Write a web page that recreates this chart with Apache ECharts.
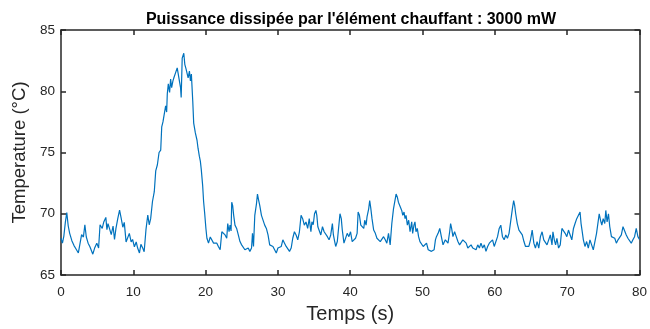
<!DOCTYPE html>
<html>
<head>
<meta charset="utf-8">
<script src="https://cdn.jsdelivr.net/npm/echarts@6/dist/echarts.min.js"></script>
<style>
  html, body { margin: 0; padding: 0; background: #fff; }
  #chart { width: 650px; height: 329px; }
</style>
</head>
<body>
<div id="chart"></div>
<script>
// Temperature trace sampled over 80 s (time in s, temperature in °C)
const time = [
  0.0,0.2,0.4,0.6,0.8,1.0,1.2,1.5,1.8,2.1,2.4,2.6,2.85,3.1,3.3,3.5,3.75,4.0,4.4,4.65,4.95,5.2,5.4,5.7,5.9,6.2,6.35,6.5,6.7,6.95,7.2,7.4,7.6,7.85,8.1,8.3,8.55,8.75,9.0,9.2,9.45,9.7,9.9,10.15,10.4,10.6,10.85,11.05,11.3,11.5,11.75,12.0,12.2,12.4,
  12.65,12.9,13.1,13.33,13.56,13.79,13.93,14.1,14.25,14.47,14.61,14.7,14.84,15.02,15.16,15.3,15.48,15.61,15.84,16.07,16.3,16.53,16.62,16.76,16.98,17.12,17.3,17.44,17.58,17.76,17.9,18.03,18.22,18.35,18.58,18.81,18.95,19.13,19.27,19.4,19.59,19.72,19.86,20.04,20.18,20.4,20.64,20.87,21.1,21.32,21.55,21.78,
  22.01,22.24,22.46,22.69,22.92,23.06,23.24,23.38,23.52,23.61,23.74,23.88,24.06,24.29,24.52,24.75,24.98,25.2,25.43,25.66,25.89,26.12,26.35,26.48,26.62,26.8,27.03,27.17,27.3,27.49,27.72,27.94,28.17,28.4,28.63,28.86,29.09,29.31,29.54,29.77,30.0,30.23,30.46,30.68,30.91,31.14,31.37,31.6,31.83,32.05,32.28,32.51,32.74,32.97,33.2,33.42,33.65,33.88,34.11,
  34.33,34.56,34.7,34.88,35.06,35.25,35.38,35.52,35.7,35.93,36.16,36.39,36.62,36.84,37.07,37.3,37.53,37.67,37.85,37.99,38.21,38.44,38.58,38.76,38.9,39.13,39.36,39.58,39.81,40.04,40.27,40.5,40.73,40.95,41.09,41.27,41.46,41.64,41.87,42.0,42.19,42.32,42.55,42.69,42.83,43.01,43.24,43.47,43.69,43.92,44.15,44.38,44.61,44.84,45.06,45.29,45.52,45.75,45.98,46.2,46.34,46.52,46.66,46.89,47.12,
  47.26,47.44,47.58,47.72,47.9,48.08,48.27,48.5,48.63,48.81,48.95,49.09,49.27,49.45,49.64,49.86,50.09,50.32,50.55,50.78,51.0,51.23,51.46,51.6,51.78,51.92,52.15,52.38,52.6,52.83,52.97,53.15,53.29,53.52,53.75,53.88,54.02,54.2,54.43,54.66,54.89,55.12,55.34,55.57,55.8,56.03,56.26,56.49,56.71,56.94,57.17,57.4,57.63,57.86,58.08,58.31,58.54,58.77,59.0,59.23,59.45,59.68,59.91,60.14,60.37,60.6,60.82,61.05,61.28,61.51,61.74,61.96,62.19,62.42,62.6,62.74,62.88,
  63.1,63.33,63.56,63.79,64.02,64.24,64.47,64.7,64.93,65.16,65.39,65.61,65.84,66.07,66.3,66.53,66.76,66.98,67.21,67.44,67.67,67.9,68.03,68.22,68.4,68.58,68.81,69.04,69.27,69.5,69.72,69.95,70.18,70.41,70.64,70.87,71.09,71.32,71.55,71.78,71.92,72.05,72.24,72.46,72.69,72.92,73.15,73.38,73.61,73.83,74.06,74.29,74.43,74.61,74.79,74.98,75.2,75.34,75.52,75.71,75.89,76.12,76.35,76.58,76.8,77.03,77.26,77.49,77.72,77.95,78.17,78.4,78.63,78.86,79.09,79.32,79.55,79.78,80.0
];
const temperature = [
  68.0,67.6,68.2,69.3,70.1,69.0,68.4,67.8,67.4,67.1,66.8,66.9,68.3,68.1,69.1,68.1,67.6,67.3,66.7,67.2,67.6,67.2,69.1,68.8,69.3,69.7,68.7,69.2,68.8,68.3,69.0,67.9,68.8,69.6,70.3,69.7,68.9,69.3,67.7,67.7,68.4,67.7,67.9,67.3,67.7,67.2,66.8,67.5,67.2,66.9,68.7,69.9,69.1,69.6,
  71.0,71.8,73.5,74.0,75.0,75.2,77.1,77.5,77.6,78.8,78.3,79.8,80.6,79.9,81.0,80.3,80.85,81.1,81.5,81.9,81.9,80.3,79.5,82.7,83.1,82.2,81.8,81.9,81.1,81.65,80.85,81.4,79.2,77.4,76.6,76.0,75.35,74.7,74.3,73.6,72.3,71.0,70.1,68.8,68.0,67.6,68.1,68.0,67.6,67.7,67.6,67.3,
  67.06,68.53,68.4,68.27,68.0,69.2,68.53,69.07,68.6,70.94,70.67,69.87,69.07,68.8,68.27,67.73,67.46,67.33,67.06,66.93,67.2,66.93,67.2,68.4,67.33,69.87,70.81,71.61,71.2,70.67,69.87,69.74,69.07,68.8,68.27,67.46,67.6,67.33,67.06,66.79,67.2,67.06,67.33,67.87,67.6,67.33,67.46,66.93,67.2,68.0,68.53,68.27,67.87,68.53,69.87,69.6,69.07,69.33,68.8,
  69.6,68.53,69.34,69.1,70.0,70.27,69.87,68.94,68.8,68.27,68.94,68.53,68.4,68.13,67.87,68.27,69.2,68.27,67.73,67.33,67.73,67.6,70.0,69.6,68.67,67.6,67.46,68.4,68.13,68.53,67.73,67.6,68.0,68.4,70.14,69.87,69.07,69.2,68.8,69.47,69.07,69.74,70.4,71.08,70.5,69.6,68.67,68.4,68.0,68.0,67.73,67.87,68.13,67.87,67.6,68.4,67.46,69.2,70.4,70.54,71.61,71.34,70.94,70.8,70.27,
  69.87,70.14,69.6,69.87,69.07,69.47,68.53,69.34,68.4,69.07,69.34,68.53,68.8,68.13,67.73,67.6,67.33,67.46,67.6,67.06,66.93,66.93,66.79,67.06,67.87,68.13,68.4,68.8,68.13,67.46,67.6,67.87,67.73,67.6,68.53,69.2,68.8,68.13,68.53,68.13,67.73,67.46,67.6,67.87,67.73,67.6,67.2,67.06,67.46,67.2,67.33,67.06,67.46,67.2,67.6,67.2,67.46,66.93,67.33,67.6,67.73,67.87,67.33,67.46,68.13,68.8,69.07,68.13,67.87,68.27,68.0,68.4,68.4,70.4,71.08,70.67,70.0,
  69.2,68.67,68.8,68.27,67.73,67.33,67.46,67.33,67.87,68.67,67.6,67.2,67.73,67.2,68.13,68.53,67.87,67.73,67.46,67.6,68.27,67.46,68.53,67.87,67.46,68.0,67.2,67.46,68.8,68.67,68.4,68.13,68.67,68.27,67.87,68.8,69.2,69.6,69.47,70.14,69.2,68.67,67.87,67.33,67.73,67.2,67.87,67.46,67.06,67.2,68.4,68.53,70.0,69.47,69.07,69.6,69.2,70.27,69.34,70.0,68.94,68.13,68.27,68.0,67.6,67.87,67.73,68.27,68.94,68.8,68.27,68.0,68.13,67.6,67.87,68.13,68.8,68.13,67.9
];
const xTicks = [0, 10, 20, 30, 40, 50, 60, 70, 80];
const yTicks = [65, 70, 75, 80, 85];

const titleText = "Puissance dissipée par l'élément chauffant : 3000 mW";
const xLabel = 'Temps (s)';
const yLabel = 'Temperature (°C)';

const FONT = '"Liberation Sans", Arial, Helvetica, sans-serif';
const AXIS_COLOR = '#262626';

const points = time.map((t, i) => [t, temperature[i]]);

function axisBase(ticks) {
  return {
    type: 'value',
    min: ticks[0],
    max: ticks[ticks.length - 1],
    interval: ticks[1] - ticks[0],
    splitLine: { show: false },
    axisLine: { show: true, onZero: false, lineStyle: { color: AXIS_COLOR, width: 1.5 } },
    axisTick: { show: true, inside: true, length: 5, lineStyle: { color: AXIS_COLOR, width: 1.5 } }
  };
}

const chart = echarts.init(document.getElementById('chart'), null, { renderer: 'canvas' });
chart.setOption({
  animation: false,
  backgroundColor: '#ffffff',
  title: {
    text: titleText,
    left: 346,
    top: 7,
    textAlign: 'center',
    textStyle: { fontFamily: FONT, fontSize: 16, fontWeight: 'bold', color: '#000000' }
  },
  grid: { left: 61, right: 6, top: 30, bottom: 50, containLabel: false },
  xAxis: [
    Object.assign(axisBase(xTicks), {
      position: 'bottom',
      name: xLabel,
      nameLocation: 'middle',
      nameGap: 29,
      nameTextStyle: { fontFamily: FONT, fontSize: 20, color: AXIS_COLOR },
      axisLabel: { margin: 10, fontFamily: FONT, fontSize: 13.5, color: AXIS_COLOR }
    }),
    Object.assign(axisBase(xTicks), {
      position: 'top',
      axisLabel: { show: false }
    })
  ],
  yAxis: [
    Object.assign(axisBase(yTicks), {
      position: 'left',
      name: yLabel,
      nameLocation: 'middle',
      nameGap: 28,
      nameTextStyle: { fontFamily: FONT, fontSize: 18.5, color: AXIS_COLOR },
      axisLabel: { margin: 6, fontFamily: FONT, fontSize: 13.5, color: AXIS_COLOR }
    }),
    Object.assign(axisBase(yTicks), {
      position: 'right',
      axisLabel: { show: false }
    })
  ],
  series: [{
    type: 'line',
    data: points,
    xAxisIndex: 0,
    yAxisIndex: 0,
    showSymbol: false,
    symbol: 'none',
    lineStyle: { color: '#0072BD', width: 1.2 },
    z: 1
  }]
});
</script>
</body>
</html>
